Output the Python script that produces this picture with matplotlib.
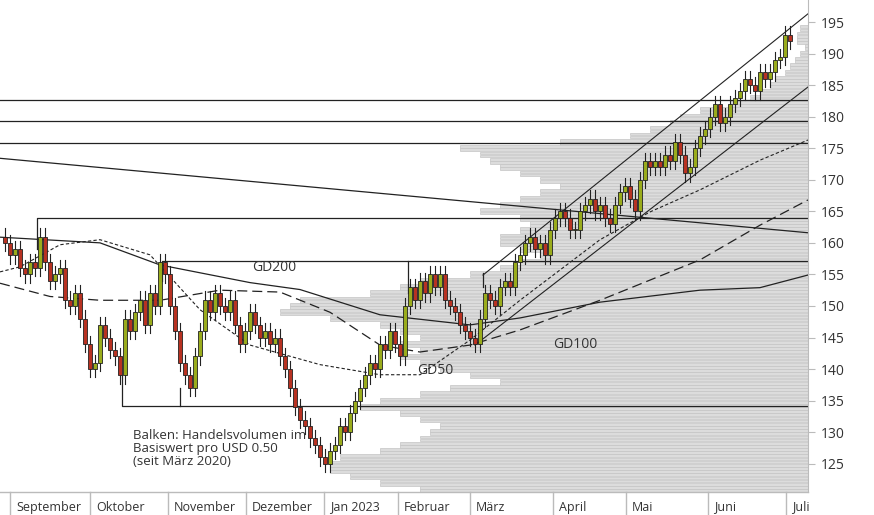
import matplotlib
matplotlib.use("Agg")
import matplotlib.pyplot as plt
import numpy as np

plt.rcParams['font.family'] = ['Open Sans', 'DejaVu Sans']

closes = [160,158,159,156,155,157,156,161,157,154,155,156,151,150,152,148,144,140,141,147,
145,143,142,139,148,146,149,151,147,152,150,157,155,150,146,141,139,137,142,146,
151,149,152,150,149,151,147,144,146,149,147,145,146,144,145,142,140,137,134,132,
131,129,128,126,125,127,128,131,130,133,135,137,139,141,140,144,143,146,144,142,
150,153,151,154,152,155,153,155,151,150,149,147,146,145,144,148,152,151,150,153,
154,153,157,158,160,161,159,160,158,162,164,165,164,162,162,165,166,167,165,166,
164,163,166,168,169,167,165,170,173,172,173,172,174,173,176,174,171,172,175,177,
178,180,182,179,180,182,183,184,186,185,184,187,186,187,189,189.5,193,192]
opens = [161] + closes[:-1]

vp_prices = list(range(121, 195))
vp_left = [420,380,350,330,330,340,380,400,420,430,440,420,400,360,380,420,450,500,470,440,
420,400,420,400,420,400,380,330,280,290,300,370,400,420,470,500,520,540,520,500,
500,520,530,520,480,500,520,540,560,540,520,500,490,480,460,560,630,650,670,680,
700,730,750,760,770,775,785,790,795,800,805,797,797,800]

ma_x = [0,100,160,250,300,380,470,520,600,700,760,808]
gd200 = [160.9,160.0,156.5,153.7,152.6,148.6,147.0,148.1,150.6,152.5,152.9,154.9]
ma100_x = [0,50,100,160,220,280,330,380,420,470,520,600,700,760,808]
gd100 = [153.6,151.5,150.9,150.9,152.5,152.2,149.0,143.8,142.7,143.8,146.2,150.9,157.3,162.8,166.8]
ma50_x = [0,20,60,100,150,200,250,320,380,420,470,520,600,650,700,760,808]
gd50 = [155.4,156.2,159.7,160.5,158.1,149.4,143.8,140.7,139.1,139.1,144.6,150.9,160.5,164.9,168.4,173.1,176.3]

months = ["September","Oktober","November","Dezember","Jan 2023","Februar","März","April","Mai","Juni","Juli"]
month_x = [10,90,168,246,324,398,470,553,626,708,786]
yticks = list(range(125, 200, 5))

XR = 808
def py(y): return 195 - (y - 22) / 6.31

fig = plt.figure(figsize=(8.74, 5.15), dpi=100)
ax = fig.add_axes([0, 23/515, XR/874, 492/515])
ax.set_xlim(0, XR)
ax.set_ylim(py(492), py(0))

for p, l in zip(vp_prices, vp_left):
    for off in (-0.25, 0.25):
        ax.barh(p + off, XR - l, left=l, height=0.42, color="#dcdcdc", edgecolor="#c4c4c4", linewidth=0.5, zorder=1)

lc = "#222222"
for y, x0 in [(182.6, 0), (179.3, 0), (175.8, 0)]:
    ax.plot([x0, XR], [y, y], color=lc, lw=0.9, zorder=2)
ax.plot([37, 37, XR], [159, 163.9, 163.9], color=lc, lw=0.9, zorder=2)
ax.plot([162, 162, XR], [154, 157.1, 157.1], color=lc, lw=0.9, zorder=2)
ax.plot([408, 408], [152, 157.1], color=lc, lw=0.9, zorder=2)
ax.plot([483, 483], [153, 155.2], color=lc, lw=0.9, zorder=2)
ax.plot([122, 122, XR], [139, 134.1, 134.1], color=lc, lw=0.9, zorder=2)
ax.plot([180, 180], [134.1, 137], color=lc, lw=0.9, zorder=2)
ax.plot([0, XR], [173.4, 161.6], color=lc, lw=0.9, zorder=2)
ax.plot([483, XR], [154.9, 196.3], color=lc, lw=0.8, zorder=2)
ax.plot([475, XR], [143.8, 184.7], color=lc, lw=0.8, zorder=2)

ax.plot(ma_x, gd200, color=lc, lw=0.9, zorder=3)
ax.plot(ma100_x, gd100, color=lc, lw=0.9, ls=(0, (8, 4)), zorder=3)
ax.plot(ma50_x, gd50, color=lc, lw=0.8, ls=(0, (3, 2)), zorder=3)

for i, (o, c) in enumerate(zip(opens, closes)):
    x = 5 + 5 * i
    hi, lo = max(o, c) + 1.3, min(o, c) - 1.3
    ax.plot([x, x], [lo, hi], color="#222222", lw=0.8, zorder=4)
    col = "#9aac1c" if c >= o else "#b83222"
    ax.bar(x, max(abs(c - o), 0.2), bottom=min(o, c), width=3.4, color=col, edgecolor="#222222", linewidth=0.6, zorder=5)

ax.text(252, 155.5, "GD200", fontsize=10, color="#333333", zorder=6)
ax.text(553, 143.4, "GD100", fontsize=10, color="#333333", zorder=6)
ax.text(417, 139.2, "GD50", fontsize=10, color="#333333", zorder=6)
ax.text(133, 130.5, "Balken: Handelsvolumen im\nBasiswert pro USD 0.50\n(seit März 2020)", fontsize=9.5, color="#333333",
        va="top", linespacing=1.0, zorder=6)

for s in ["top", "left", "bottom"]:
    ax.spines[s].set_visible(False)
ax.spines["right"].set_color("#bbbbbb")
ax.yaxis.tick_right()
ax.set_yticks(yticks)
ax.set_yticklabels([str(t) for t in yticks], fontsize=10, color="#333333")
ax.tick_params(axis="y", length=5, color="#bbbbbb", pad=4)
ax.set_xticks([])

ax.plot([0, XR], [py(492), py(492)], color="#bbbbbb", lw=1, clip_on=False)
for m, x in zip(months, month_x):
    ax.plot([x, x], [py(492), py(515)], color="#bbbbbb", lw=1, clip_on=False)
    ax.text(x + 6, py(507), m, fontsize=9, color="#333333", va="center", clip_on=False)

fig.savefig("out.png", dpi=100)
